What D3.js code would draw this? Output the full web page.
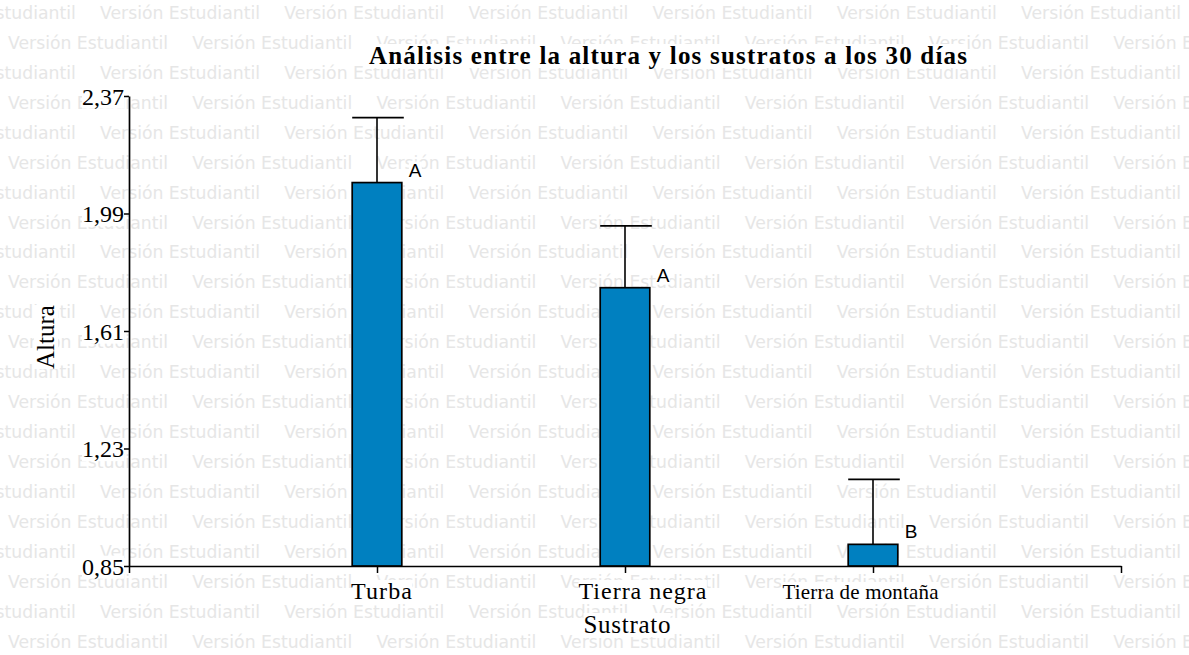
<!DOCTYPE html>
<html>
<head>
<meta charset="utf-8">
<script src="https://cdn.jsdelivr.net/npm/d3@7"></script>
<style>
  html, body { margin: 0; padding: 0; background: #fff; }
  svg { display: block; }
</style>
</head>
<body>
<svg id="chart" width="1189" height="655"></svg>
<script>
// ---- data ----
const categories = ["Turba", "Tierra negra", "Tierra de montaña"];
const categoryPos = [1, 2, 3];
const means = [2.09, 1.75, 0.92];
const errors = [0.21, 0.20, 0.21];
const groupLetters = ["A", "A", "B"];
const yTickValues = [0.85, 1.23, 1.61, 1.99, 2.37];
const yTickLabels = ["0,85", "1,23", "1,61", "1,99", "2,37"];
const titleText = "Análisis entre la altura y los sustratos a los 30 días";
const xTitle = "Sustrato";
const yTitle = "Altura";
const watermark = "Versión Estudiantil";

// ---- drawing ----
const W = 1189, H = 655;
const svg = d3.select("#chart");
const serif = "'Liberation Serif', 'Times New Roman', serif";

// watermark background
const wm = svg.append("g").attr("fill", "#e6e6e6")
  .style("font-family", "'DejaVu Sans', Verdana, sans-serif").style("font-size", "17px");
for (let r = 0; r < 23; r++) {
  const yb = 19 + 29.93 * r;
  const x0 = (r % 2 === 1) ? 8 : -84.2;
  for (let j = 0; j < 8; j++) {
    const xx = x0 + 184.2 * j;
    if (xx > W) break;
    wm.append("text").attr("x", xx).attr("y", yb)
      .attr("textLength", 160).attr("lengthAdjust", "spacingAndGlyphs")
      .text(watermark);
  }
}

const x = d3.scaleLinear().domain([0, 4]).range([129, 1121]);
const y = d3.scaleLinear().domain([0.85, 2.37]).range([566, 96]);

function boxText(sel) {
  sel.each(function () {
    const bb = this.getBBox();
    d3.select(this.parentNode).insert("rect", () => this)
      .attr("x", bb.x).attr("y", bb.y + 2).attr("width", bb.width).attr("height", bb.height - 3)
      .attr("fill", "#fff")
      .attr("transform", d3.select(this).attr("transform"));
  });
}

// title
const tg = svg.append("g");
tg.append("text")
  .attr("x", 668).attr("y", 64).attr("text-anchor", "middle")
  .attr("textLength", 598).attr("lengthAdjust", "spacing")
  .style("font-family", serif).style("font-size", "25px").style("font-weight", "bold")
  .text(titleText)
  .call(boxText);

// y axis
const yAxis = svg.append("g").attr("transform", `translate(${x(0)},0)`)
  .call(d3.axisLeft(y).tickValues(yTickValues)
    .tickFormat((d, i) => yTickLabels[i]).tickSize(5).tickSizeOuter(0).tickPadding(0));
yAxis.select(".domain").attr("stroke-width", 1.7);
yAxis.selectAll(".tick line").attr("stroke-width", 1.5);
yAxis.selectAll(".tick text").style("font-family", serif).style("font-size", "24px")
  .attr("fill", "#000").attr("dy", "0.34em");
yAxis.selectAll(".tick text").call(boxText);

// x axis
const xAxis = svg.append("g").attr("transform", `translate(0,${y(0.85)})`)
  .call(d3.axisBottom(x).tickValues([0, 1, 2, 3, 4])
    .tickFormat(d => { const i = categoryPos.indexOf(d); return i >= 0 ? categories[i] : ""; })
    .tickSize(7).tickSizeOuter(0));
xAxis.select(".domain").attr("stroke-width", 1.7);
xAxis.selectAll(".tick line").attr("stroke-width", 1.5);
const labelShift = { "Turba": 4, "Tierra negra": 17, "Tierra de montaña": -13 };
const labelWidth = { "Turba": 61, "Tierra negra": 128, "Tierra de montaña": 156 };
xAxis.selectAll(".tick text")
  .attr("fill", "#000").attr("dy", null)
  .style("font-family", serif)
  .style("font-size", d => d === 3 ? "21px" : "24px")
  .attr("y", 33)
  .attr("x", d => { const i = categoryPos.indexOf(d); return i >= 0 ? labelShift[categories[i]] : 0; })
  .filter(function () { return this.textContent !== ""; })
  .attr("textLength", function () { return labelWidth[this.textContent]; })
  .attr("lengthAdjust", "spacing")
  .call(boxText);

// axis titles
const at = svg.append("g");
at.append("text").attr("x", 627).attr("y", 633).attr("text-anchor", "middle")
  .attr("textLength", 87).attr("lengthAdjust", "spacing")
  .style("font-family", serif).style("font-size", "25px").text(xTitle).call(boxText);
at.append("text").attr("transform", "translate(54,337) rotate(-90)").attr("text-anchor", "middle")
  .style("font-family", serif).style("font-size", "25px").text(yTitle).call(boxText);

// bars
const bw = (x(1) - x(0)) * 0.2;
const bars = svg.append("g");
categories.forEach((c, i) => {
  const cx = x(categoryPos[i]);
  // error bar (upper)
  bars.append("line").attr("x1", cx).attr("x2", cx)
    .attr("y1", y(means[i])).attr("y2", y(means[i] + errors[i]))
    .attr("stroke", "#000").attr("stroke-width", 1.6);
  bars.append("line").attr("x1", cx - bw / 2).attr("x2", cx + bw / 2 + 2)
    .attr("y1", y(means[i] + errors[i])).attr("y2", y(means[i] + errors[i]))
    .attr("stroke", "#000").attr("stroke-width", 1.6);
  bars.append("rect").attr("x", cx - bw / 2).attr("width", bw)
    .attr("y", y(means[i])).attr("height", y(0.85) - y(means[i]))
    .attr("fill", "#0080c0").attr("stroke", "#000").attr("stroke-width", 1.7);
  bars.append("text").attr("x", cx + bw / 2 + 7).attr("y", y(means[i]) - 6)
    .style("font-family", "'Liberation Sans', Arial, sans-serif").style("font-size", "19px")
    .text(groupLetters[i]).call(boxText);
});
</script>
</body>
</html>
